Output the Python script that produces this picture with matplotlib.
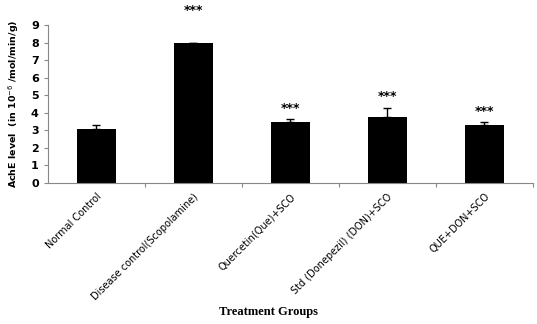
import numpy as np
import matplotlib
matplotlib.use('Agg')
import matplotlib.pyplot as plt

groups = ['Normal Control', 'Disease control(Scopolamine)', 'Quercetin(Que)+SCO',
          'Std (Donepezil) (DON)+SCO', 'QUE+DON+SCO']
ache = [3.05, 7.96, 3.46, 3.78, 3.30]
sem = [0.28, 0.04, 0.16, 0.50, 0.15]
stars = ['', '***', '***', '***', '***']

fig = plt.figure(figsize=(5.37, 3.24), dpi=100)
ax = fig.add_axes([0.089, 0.435, 0.903, 0.488])

x = np.arange(len(groups))
ax.bar(x, ache, width=0.4, color='black', zorder=2)
ax.errorbar(x, ache, yerr=[np.zeros(len(sem)), sem], fmt='none', ecolor='black',
            elinewidth=1, capsize=3, capthick=1, zorder=1)

for i, s in enumerate(stars):
    if s:
        top = ache[i] + sem[i]
        ax.text(x[i], top + 0.25, s, ha='center', va='bottom', fontsize=9,
                fontweight='bold', clip_on=False)
# the scopolamine stars sit above the frame
ax.texts[0].set_position((x[1], 9.45))

ax.set_xlim(-0.5, len(groups) - 0.5)
ax.set_ylim(0, 9)
ax.set_yticks(range(10))
ax.set_yticklabels([str(v) for v in range(10)], fontweight='bold', fontsize=8)
ax.set_xticks(x)
ax.set_xticklabels(groups, rotation=45, ha='right', rotation_mode='anchor', fontsize=7)
ax.tick_params(axis='x', length=0, pad=6)
ax.tick_params(axis='y', length=3, color='#888888', width=0.8)
# category boundary ticks like Excel
ax.set_xticks(np.arange(0.5, len(groups), 1), minor=True)
ax.tick_params(axis='x', which='minor', length=3, color='#888888', width=0.8)

for side in ['top', 'right']:
    ax.spines[side].set_visible(False)
for side in ['left', 'bottom']:
    ax.spines[side].set_color('#888888')
    ax.spines[side].set_linewidth(0.8)

ax.set_ylabel('AchE level  (in 10$^{-6}$ /mol/min/g)', fontsize=6.8, fontweight='bold', labelpad=7)
fig.text(0.5, 0.037, 'Treatment Groups', ha='center', va='center', fontsize=9,
         fontweight='bold', family='Liberation Serif')

fig.savefig('out.png', dpi=100)
